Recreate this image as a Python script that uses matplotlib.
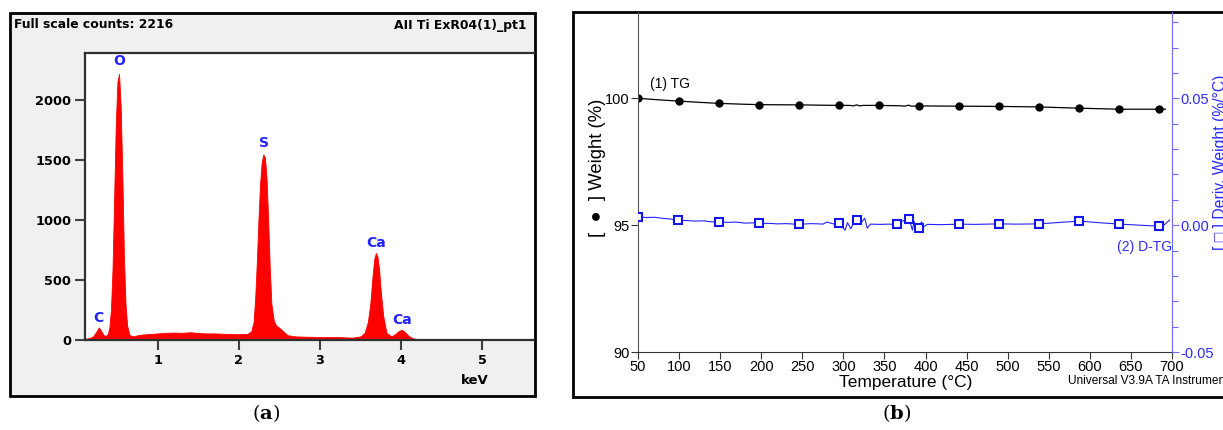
import matplotlib
matplotlib.use("Agg")
import matplotlib.pyplot as plt
from matplotlib.patches import Rectangle

# ---------------- data: EDS spectrum (panel a) ----------------
eds_kev = [0.10, 0.15, 0.20, 0.24, 0.27, 0.30, 0.33, 0.36, 0.38, 0.40, 0.42, 0.44, 0.46, 0.48,
           0.50, 0.52, 0.54, 0.56, 0.58, 0.60, 0.62, 0.65, 0.70, 0.75, 0.80, 0.90, 1.00, 1.10,
           1.20, 1.30, 1.40, 1.50, 1.60, 1.70, 1.80, 1.90, 2.00, 2.10, 2.15, 2.18, 2.20, 2.22,
           2.24, 2.26, 2.28, 2.30, 2.32, 2.34, 2.36, 2.38, 2.40, 2.43, 2.46, 2.50, 2.55, 2.60,
           2.70, 2.80, 3.00, 3.20, 3.40, 3.50, 3.55, 3.59, 3.62, 3.65, 3.67, 3.69, 3.71, 3.73,
           3.75, 3.78, 3.82, 3.88, 3.93, 3.97, 4.01, 4.05, 4.09, 4.14, 4.20, 4.40, 5.00, 5.70]
eds_counts = [10, 15, 30, 70, 105, 75, 40, 35, 50, 100, 250, 600, 1200, 1800,
              2150, 2216, 1950, 1400, 700, 300, 120, 40, 30, 40, 45, 50, 55, 60,
              62, 60, 65, 58, 55, 55, 52, 50, 48, 50, 70, 150, 350, 650,
              1000, 1300, 1480, 1545, 1520, 1350, 1000, 600, 300, 160, 120, 100, 70, 40,
              30, 28, 25, 25, 20, 30, 60, 150, 300, 550, 680, 725, 690, 580,
              400, 200, 60, 30, 50, 75, 85, 65, 35, 15, 8, 6, 5, 4]
eds_xticks = [1, 2, 3, 4, 5]
eds_yticks = [0, 500, 1000, 1500, 2000]
eds_peak_labels = ["C", "O", "S", "Ca", "Ca"]
eds_peak_kev = [0.26, 0.52, 2.31, 3.69, 4.01]
eds_peak_label_y = [185, 2320, 1640, 810, 165]

# ---------------- data: TG / DTG (panel b) ----------------
tg_temp = [50, 75, 100, 125, 149, 175, 197, 220, 246, 270, 295, 308, 312, 316, 320, 324,
           343, 370, 375, 379, 383, 392, 441, 490, 538, 587, 636, 684, 692]
tg_weight = [100.00, 99.94, 99.89, 99.84, 99.80, 99.77, 99.75, 99.745, 99.74, 99.73, 99.72,
             99.72, 99.70, 99.74, 99.70, 99.72, 99.72, 99.705, 99.69, 99.73, 99.69, 99.70,
             99.69, 99.68, 99.66, 99.61, 99.57, 99.57, 99.57]
tg_marker_temp = [50, 100, 149, 197, 246, 295, 343, 392, 441, 490, 538, 587, 636, 684]
tg_marker_weight = [100.00, 99.89, 99.80, 99.75, 99.74, 99.72, 99.72, 99.70, 99.69, 99.68,
                    99.66, 99.61, 99.57, 99.57]

dtg_temp = [50, 60, 70, 80, 90, 99, 110, 120, 130, 140, 149, 160, 170, 180, 190, 197, 210,
            220, 230, 246, 260, 270, 275, 280, 288, 295, 302, 305, 309, 313, 317, 322, 326,
            329, 333, 345, 355, 365, 372, 380, 384, 386, 389, 392, 395, 398, 402, 420, 441,
            460, 490, 510, 538, 560, 587, 610, 636, 660, 684, 689, 697]
dtg_value = [0.0033, 0.0030, 0.0031, 0.0027, 0.0024, 0.0019, 0.0018, 0.0016, 0.0017, 0.0013,
             0.0013, 0.0011, 0.0012, 0.0008, 0.0009, 0.0007, 0.0007, 0.0005, 0.0006, 0.0003,
             0.0006, 0.0005, 0.0004, 0.0012, 0.0005, 0.0007, -0.0020, 0.0010, -0.0014, 0.0012,
             0.0020, 0.0012, 0.0027, -0.0012, 0.0004, 0.0003, 0.0004, 0.0003, 0.0016, 0.0026,
             -0.0020, 0.0015, -0.0010, -0.0013, 0.0013, -0.0006, 0.0003, 0.0002, 0.0004,
             0.0003, 0.0005, 0.0004, 0.0005, 0.0010, 0.0016, 0.0010, 0.0004, 0.0000, -0.0004,
             -0.0003, 0.0020]
dtg_marker_temp = [50, 99, 149, 197, 246, 295, 317, 365, 380, 392, 441, 490, 538, 587, 636, 684]
dtg_marker_value = [0.0033, 0.0019, 0.0013, 0.0007, 0.0003, 0.0007, 0.0020, 0.0003, 0.0026,
                    -0.0013, 0.0004, 0.0005, 0.0005, 0.0016, 0.0004, -0.0004]
temp_ticks = list(range(50, 701, 50))
weight_ticks = [90, 95, 100]
deriv_ticks = [-0.05, 0.00, 0.05]

# ---------------- figure ----------------
W, H = 1223, 430
fig = plt.figure(figsize=(W / 100, H / 100), dpi=100)
fig.patch.set_facecolor("white")
plt.rcParams["mathtext.fontset"] = "dejavuserif"


def box(x0, y0, x1, y1):
    """pixel box (top-left origin) -> figure fraction rect"""
    return [x0 / W, 1 - y1 / H, (x1 - x0) / W, (y1 - y0) / H]


# panel frames
fa = box(10, 13, 535, 396)
fig.add_artist(Rectangle((fa[0], fa[1]), fa[2], fa[3], transform=fig.transFigure,
                         facecolor="#f0f0f0", edgecolor="black", lw=2, zorder=-5))
fb = box(573, 12, 1240, 397)
fig.add_artist(Rectangle((fb[0], fb[1]), fb[2], fb[3], transform=fig.transFigure,
                         facecolor="white", edgecolor="black", lw=2, zorder=-5))

# ---------------- panel (a) ----------------
axa = fig.add_axes(box(85, 53, 534, 340))
axa.set_facecolor("white")
axa.fill_between(eds_kev, 0, eds_counts, color="#ff0000", lw=0.6, edgecolor="#ff0000")
axa.set_xlim(0.1, 5.64)
axa.set_ylim(0, 2390)
axa.set_xticks(eds_xticks)
axa.set_yticks(eds_yticks)
for s in axa.spines.values():
    s.set_color("#303030")
    s.set_linewidth(1.6)
axa.spines["right"].set_visible(False)
axa.tick_params(direction="out", length=7, width=1.5, color="#404040", pad=3,
                labelsize=9.3)
for lab in axa.get_xticklabels() + axa.get_yticklabels():
    lab.set_fontweight("bold")
for name, xk, yk in zip(eds_peak_labels, eds_peak_kev, eds_peak_label_y):
    axa.text(xk, yk, name, color="#2222ff", fontsize=10, fontweight="bold",
             ha="center", va="center")
fig.text(475 / W, 1 - 381 / H, "keV", fontsize=9.5, fontweight="bold", ha="center", va="center")
fig.text(14 / W, 1 - 25 / H, "Full scale counts: 2216", fontsize=8.9, fontweight="bold",
         ha="left", va="center")
fig.text(527 / W, 1 - 25 / H, "AII Ti ExR04(1)_pt1", fontsize=8.9, fontweight="bold",
         ha="right", va="center")

# ---------------- panel (b) ----------------
sans = ["Liberation Sans", "DejaVu Sans"]
axb = fig.add_axes(box(638, 12, 1172, 352))
axb.set_facecolor("none")
axb.plot(tg_temp, tg_weight, color="black", lw=0.9)
axb.plot(tg_marker_temp, tg_marker_weight, ls="none", marker="o", ms=5, color="black")
axb.set_xlim(50, 700)
axb.set_ylim(90, 90 + 340 / 25.37)
axb.set_xticks(temp_ticks)
axb.set_yticks(weight_ticks)
axb.spines["top"].set_visible(False)
axb.spines["right"].set_visible(False)
axb.spines["left"].set_color("#555555")
axb.spines["bottom"].set_color("#333333")
axb.tick_params(direction="out", length=5, width=0.8, pad=1, labelsize=10.5, color="#333333")
for lab in axb.get_xticklabels() + axb.get_yticklabels():
    lab.set_family(sans)
axb.text(64, 100.56, "(1) TG", fontsize=10, family=sans, ha="left", va="center")

ax2 = axb.twinx()
ax2.plot(dtg_temp, dtg_value, color="#2323ff", lw=0.8)
ax2.plot(dtg_marker_temp, dtg_marker_value, ls="none", marker="s", ms=5.5, mfc="white",
         mec="#1515ee", mew=1.5)
ax2.set_ylim(-0.05, -0.05 + 340 / 2537)
ax2.set_xlim(50, 700)
ax2.set_yticks(deriv_ticks)
ax2.set_yticklabels(["-0.05", "0.00", "0.05"])
ax2.set_yticks([-0.04, -0.03, -0.02, -0.01, 0.01, 0.02, 0.03, 0.04, 0.06, 0.07, 0.08], minor=True)
for k in ["top", "left", "bottom"]:
    ax2.spines[k].set_visible(False)
ax2.spines["right"].set_color("#6a6aff")
ax2.tick_params(axis="y", which="both", direction="out", color="#6a6aff", width=0.8,
                labelcolor="#2a2aff", labelsize=10.5, pad=1)
ax2.tick_params(axis="y", which="major", length=5)
ax2.tick_params(axis="y", which="minor", length=4)
for lab in ax2.get_yticklabels():
    lab.set_family(sans)
ax2.text(700, -0.0085, "(2) D-TG", fontsize=10, family=sans, color="#2a2aff",
         ha="right", va="center")

fig.text(906 / W, 1 - 383 / H, "Temperature (°C)", fontsize=12.5, family=sans,
         ha="center", va="center")
fig.text(1068 / W, 1 - 381 / H, "Universal V3.9A TA Instruments", fontsize=8.6, family=sans,
         ha="left", va="center")
fig.text(597 / W, 1 - 168 / H, "[  ●  ] Weight (%)", fontsize=13.3, family=sans,
         rotation=90, ha="center", va="center")
fig.text(1220 / W, 1 - 162 / H, "[ □ ] Deriv. Weight (%/°C)", fontsize=11.3, family=sans,
         color="#2a2aff", rotation=90, ha="center", va="center")

# captions
fig.text(266 / W, 1 - 413 / H, r"($\mathbf{a}$)", fontsize=14, family="DejaVu Serif",
         ha="center", va="center")
fig.text(897 / W, 1 - 413 / H, r"($\mathbf{b}$)", fontsize=14, family="DejaVu Serif",
         ha="center", va="center")

fig.savefig("out.png", dpi=100)
